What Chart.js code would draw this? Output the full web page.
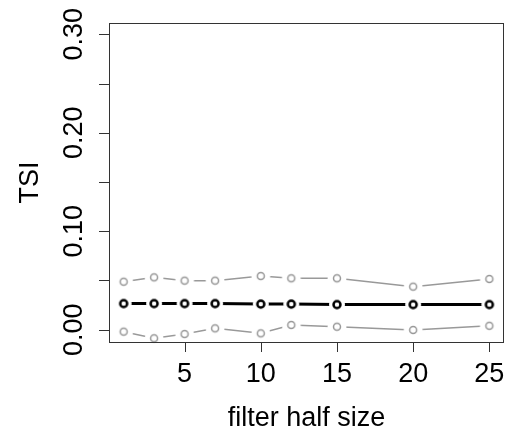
<!DOCTYPE html>
<html>
<head>
<meta charset="utf-8">
<script src="https://cdn.jsdelivr.net/npm/chart.js@4"></script>
<style>
  html, body { margin: 0; padding: 0; background: #fff; }
  #wrap { width: 507px; height: 430px; }
</style>
</head>
<body>
<div id="wrap"><canvas id="tsiChart" width="507" height="430"></canvas></div>
<script>
// filter half size values on the x axis
var halfSizes = [1, 3, 5, 7, 10, 12, 15, 20, 25];
// mean TSI and the upper / lower band
var tsiMean  = [0.0265, 0.0265, 0.0265, 0.0265, 0.026, 0.026, 0.0255, 0.0255, 0.0255];
var tsiUpper = [0.0487, 0.0532, 0.0498, 0.0498, 0.0545, 0.0522, 0.0522, 0.0437, 0.0515];
var tsiLower = [-0.002, -0.0087, -0.0044, 0.0014, -0.0037, 0.0048, 0.003, -0.0003, 0.004];

var xTicks = [5, 10, 15, 20, 25];
var yTicks = [0, 0.05, 0.10, 0.15, 0.20, 0.25, 0.30];
var yLabels = ['0.00', '0.10', '0.20', '0.30'];

var FONT = '27px "Liberation Sans", Arial, sans-serif';
var grey = '#999999';

// open circle on a white disc, so the line stops short of it (R type="b")
function ringMarker(gap, r, bw, color) {
    var c = document.createElement('canvas');
    var s = Math.ceil(gap) * 2 + 2;
    c.width = s; c.height = s;
    var g = c.getContext('2d');
    g.fillStyle = '#fff';
    g.beginPath(); g.arc(s / 2, s / 2, gap, 0, Math.PI * 2); g.fill();
    g.strokeStyle = color; g.lineWidth = bw;
    g.beginPath(); g.arc(s / 2, s / 2, r, 0, Math.PI * 2); g.stroke();
    return c;
}

function series(ys, color, lw, marker) {
    return {
        data: halfSizes.map(function(x, i) { return { x: x, y: ys[i] }; }),
        borderColor: color, borderWidth: lw,
        pointStyle: marker, pointRadius: 4, clip: false
    };
}

var rAxes = {
    id: 'rAxes',
    afterDraw: function(chart) {
        var ctx = chart.ctx;
        var a = chart.chartArea;
        var xs = chart.scales.x, ys = chart.scales.y;
        ctx.save();
        ctx.strokeStyle = '#333';
        ctx.lineWidth = 1;
        ctx.strokeRect(Math.round(a.left) + 0.5, Math.round(a.top) + 0.5,
                       Math.round(a.right - a.left) - 1, Math.round(a.bottom - a.top));
        ctx.beginPath();
        xTicks.forEach(function(v) {
            var px = Math.round(xs.getPixelForValue(v)) + 0.5;
            ctx.moveTo(px, a.bottom);
            ctx.lineTo(px, a.bottom + 10);
        });
        yTicks.forEach(function(v) {
            var py = Math.round(ys.getPixelForValue(v)) + 0.5;
            ctx.moveTo(a.left, py);
            ctx.lineTo(a.left - 10, py);
        });
        ctx.stroke();

        ctx.fillStyle = '#000';
        ctx.font = FONT;
        ctx.textAlign = 'center';
        ctx.textBaseline = 'alphabetic';
        xTicks.forEach(function(v) {
            ctx.fillText(String(v), xs.getPixelForValue(v), 382);
        });
        ctx.fillText('filter half size', (a.left + a.right) / 2, 426);

        yLabels.forEach(function(t) {
            ctx.save();
            ctx.translate(82, ys.getPixelForValue(parseFloat(t)));
            ctx.rotate(-Math.PI / 2);
            ctx.fillText(t, 0, 0);
            ctx.restore();
        });
        ctx.save();
        ctx.translate(38, (a.top + a.bottom) / 2);
        ctx.rotate(-Math.PI / 2);
        ctx.fillText('TSI', 0, 0);
        ctx.restore();
        ctx.restore();
    }
};

var greyRing = ringMarker(9.5, 3.5, 1.5, grey);
var blackRing = ringMarker(8, 3.5, 2.5, '#000');

new Chart(document.getElementById('tsiChart').getContext('2d'), {
    type: 'line',
    data: {
        datasets: [
            series(tsiUpper, grey, 1.5, greyRing),
            series(tsiLower, grey, 1.5, greyRing),
            series(tsiMean, '#000', 3, blackRing)
        ]
    },
    options: {
        responsive: false,
        animation: false,
        layout: { autoPadding: false, padding: { left: 109, top: 23, right: 3, bottom: 88 } },
        plugins: { legend: { display: false }, tooltip: { enabled: false } },
        scales: {
            x: { type: 'linear', min: 0.04, max: 25.96, display: false },
            y: { type: 'linear', min: -0.0125, max: 0.3115, display: false }
        }
    },
    plugins: [rAxes]
});
</script>
</body>
</html>
